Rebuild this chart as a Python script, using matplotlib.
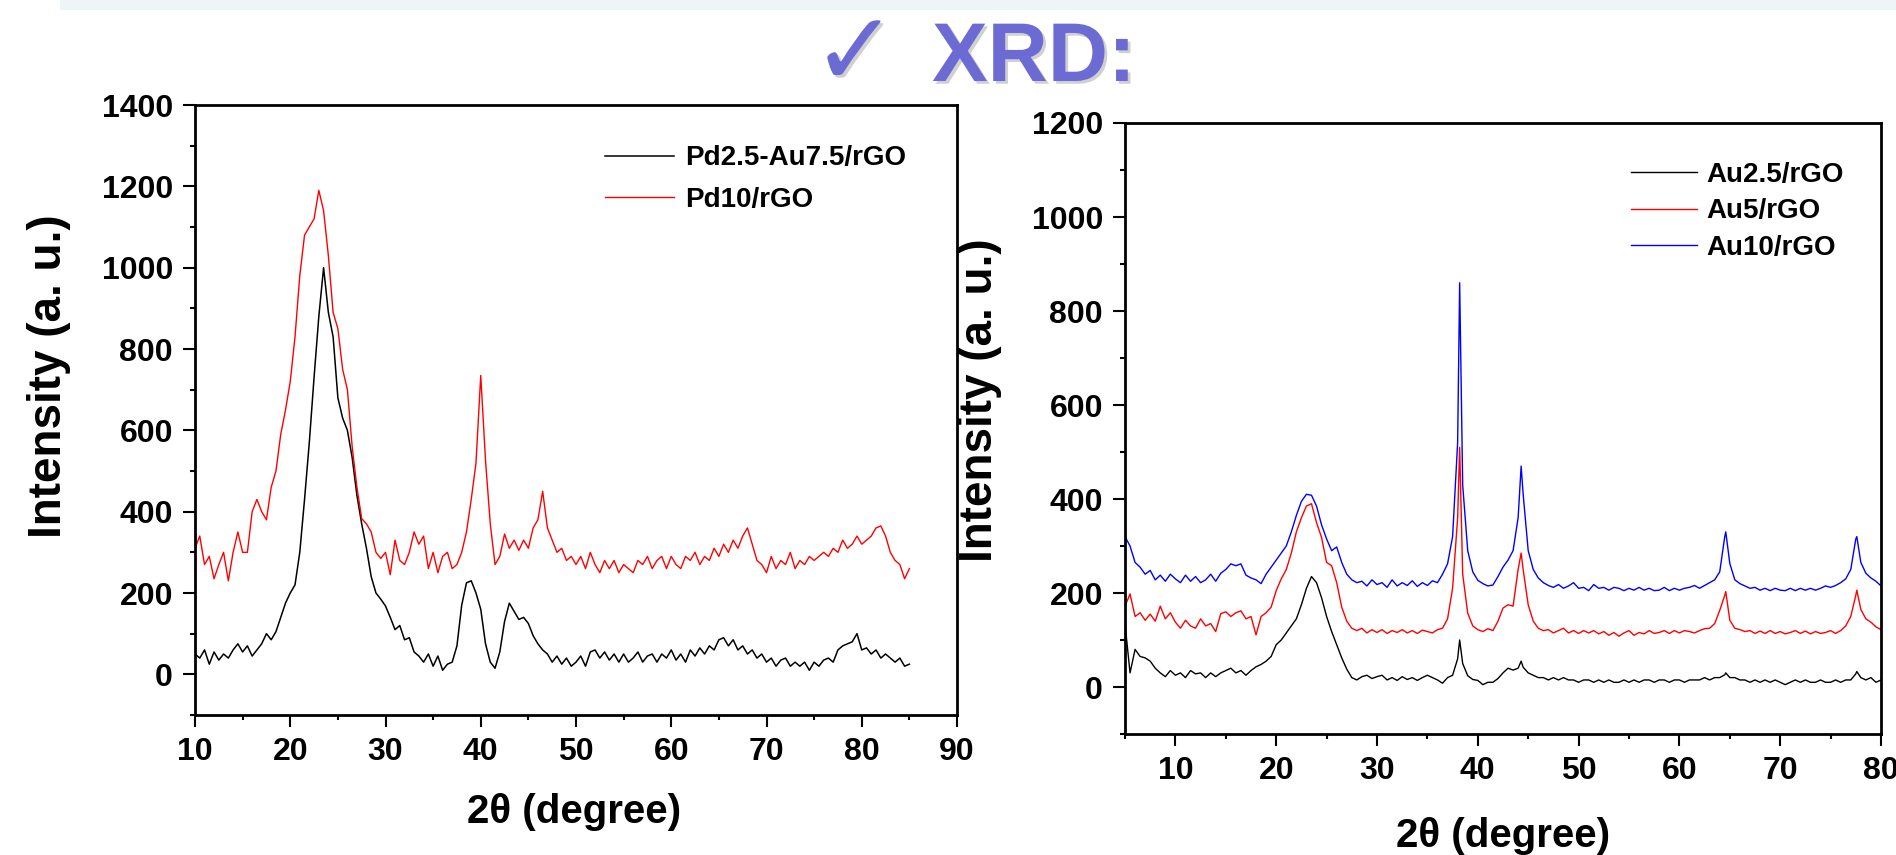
import matplotlib as mpl
mpl.use('Agg')
import matplotlib.pyplot as plt
import matplotlib.patheffects as pe
from matplotlib.patches import Rectangle
from matplotlib.ticker import MultipleLocator
import numpy as np

plt.rcParams['font.family'] = ['Liberation Sans', 'DejaVu Sans']
plt.rcParams['font.weight'] = 'bold'

# ---- left panel: Pd / Pd-Au on rGO, 2theta 10..85 step 0.5
left_x = np.arange(10, 85.01, 0.5)
pdau_y = [50, 40, 60, 25, 55, 35, 50, 40, 60, 75,
          55, 70, 45, 60, 75, 100, 85, 105, 140, 175,
          200, 220, 300, 430, 570, 730, 880, 1000, 890, 830,
          680, 630, 600, 533, 440, 370, 310, 240, 200, 185,
          168, 140, 110, 120, 85, 90, 55, 45, 30, 50,
          20, 45, 10, 25, 30, 70, 170, 225, 230, 200,
          160, 75, 30, 15, 55, 130, 175, 155, 135, 140,
          125, 95, 75, 60, 50, 30, 45, 25, 40, 20,
          30, 45, 20, 55, 60, 40, 55, 35, 50, 30,
          50, 30, 40, 55, 30, 45, 50, 30, 50, 40,
          60, 35, 50, 30, 60, 45, 65, 50, 70, 60,
          85, 90, 70, 85, 60, 70, 50, 60, 40, 50,
          30, 40, 20, 35, 40, 20, 30, 20, 30, 10,
          30, 20, 35, 40, 30, 60, 70, 75, 80, 100,
          60, 65, 50, 60, 40, 50, 40, 30, 40, 20,
          25]
pd_y = [310, 340, 270, 290, 235, 270, 300, 230, 300, 350,
        300, 300, 400, 430, 400, 380, 460, 500, 590, 650,
        720, 830, 980, 1080, 1100, 1120, 1190, 1140, 1030, 890,
        850, 750, 700, 560, 460, 383, 370, 350, 300, 285,
        300, 245, 330, 280, 270, 300, 350, 320, 340, 260,
        300, 250, 290, 300, 260, 270, 300, 350, 430, 520,
        735, 526, 370, 270, 290, 345, 310, 330, 305, 330,
        310, 360, 380, 450, 360, 330, 300, 310, 280, 290,
        270, 290, 260, 300, 270, 250, 280, 260, 280, 250,
        270, 260, 250, 280, 270, 290, 260, 280, 290, 260,
        290, 270, 260, 290, 280, 300, 270, 290, 280, 310,
        290, 320, 300, 330, 310, 340, 360, 320, 280, 270,
        250, 290, 260, 280, 270, 300, 260, 280, 270, 290,
        280, 290, 300, 290, 310, 300, 330, 310, 320, 340,
        320, 330, 340, 360, 365, 340, 300, 280, 270, 235,
        260]
left_labels = ['Pd2.5-Au7.5/rGO', 'Pd10/rGO']

# ---- right panel: Au on rGO, 2theta 5..80 step 0.5, plus peak apex readings
right_x = np.arange(5, 80.01, 0.5)
au25_y = [135, 30, 80, 65, 62, 55, 40, 30, 22, 35,
          25, 30, 20, 35, 28, 30, 20, 30, 22, 30,
          35, 40, 30, 35, 25, 35, 43, 48, 55, 65,
          90, 100, 115, 130, 145, 175, 210, 235, 222, 190,
          150, 118, 90, 62, 38, 20, 15, 22, 25, 18,
          22, 25, 15, 20, 14, 22, 16, 20, 14, 20,
          25, 20, 15, 8, 20, 25, 60, 50, 24, 16,
          14, 5, 10, 10, 18, 30, 40, 36, 40, 42,
          30, 25, 20, 20, 15, 20, 15, 20, 15, 15,
          10, 15, 15, 10, 15, 10, 15, 10, 10, 15,
          10, 15, 10, 15, 15, 10, 15, 15, 10, 15,
          15, 10, 15, 15, 15, 20, 15, 20, 20, 26,
          20, 20, 15, 15, 10, 15, 10, 15, 10, 15,
          10, 5, 10, 15, 10, 15, 10, 10, 15, 10,
          10, 15, 10, 15, 15, 28, 20, 15, 20, 10,
          15]
au5_y = [172, 198, 150, 158, 142, 155, 140, 172, 145, 158,
         138, 125, 142, 130, 125, 145, 130, 135, 118, 156,
         160, 150, 158, 162, 145, 150, 111, 150, 158, 170,
         205, 230, 250, 285, 330, 360, 385, 390, 350, 318,
         265, 258, 222, 170, 140, 125, 120, 125, 115, 122,
         116, 122, 114, 120, 116, 122, 115, 120, 114, 121,
         118, 115, 122, 125, 145, 210, 360, 240, 157, 130,
         122, 118, 124, 120, 140, 168, 175, 172, 250, 250,
         175, 140, 125, 120, 122, 115, 120, 125, 115, 120,
         114, 120, 115, 120, 113, 118, 110, 116, 108, 115,
         120, 110, 116, 113, 120, 114, 116, 120, 114, 120,
         115, 120, 118, 115, 120, 124, 125, 135, 163, 195,
         142, 125, 122, 118, 120, 114, 119, 114, 120, 114,
         118, 113, 116, 120, 114, 119, 113, 118, 114, 116,
         120, 114, 120, 130, 150, 195, 165, 145, 138, 128,
         122]
au10_y = [320, 300, 265, 255, 240, 248, 228, 238, 225, 240,
          230, 222, 238, 225, 235, 222, 228, 240, 225, 242,
          250, 262, 258, 262, 238, 232, 228, 220, 240, 255,
          270, 285, 300, 330, 365, 395, 410, 408, 385, 345,
          315, 290, 298, 265, 240, 228, 222, 225, 215, 228,
          218, 222, 212, 228, 215, 222, 216, 226, 214, 222,
          216, 226, 222, 240, 262, 320, 520, 430, 290, 245,
          227, 220, 215, 217, 235, 255, 270, 290, 360, 410,
          290, 250, 232, 222, 216, 212, 218, 210, 215, 222,
          210, 212, 205, 218, 210, 212, 206, 212, 210, 205,
          210, 206, 212, 206, 210, 205, 206, 212, 205, 210,
          206, 210, 212, 216, 210, 216, 222, 228, 245, 320,
          263, 228, 220, 215, 210, 212, 206, 210, 205, 210,
          206, 205, 210, 205, 210, 206, 210, 206, 210, 215,
          212, 216, 222, 230, 250, 315, 265, 242, 232, 225,
          215]
peak_x = [38.2, 44.3, 64.6, 77.6]
au25_peaks = [100, 55, 30, 33]
au5_peaks = [510, 285, 203, 206]
au10_peaks = [860, 470, 330, 320]
right_labels = ['Au2.5/rGO', 'Au5/rGO', 'Au10/rGO']


def with_peaks(x, y, px, py):
  xx = np.concatenate([x, px])
  yy = np.concatenate([np.asarray(y, float), py])
  order = np.argsort(xx)
  return xx[order], yy[order]


def style_axes(ax, xmaj, ymaj):
  for s in ax.spines.values():
    s.set_linewidth(2)
  ax.xaxis.set_major_locator(MultipleLocator(xmaj))
  ax.xaxis.set_minor_locator(MultipleLocator(xmaj / 2))
  ax.yaxis.set_major_locator(MultipleLocator(ymaj))
  ax.yaxis.set_minor_locator(MultipleLocator(ymaj / 2))
  ax.tick_params(which='both', direction='out', top=False, right=False, width=1.5)
  ax.tick_params(which='major', length=8.6, pad=7.2, labelsize=23)
  ax.tick_params(which='minor', length=3.6)
  for lab in ax.get_xticklabels() + ax.get_yticklabels():
    lab.set_fontweight('bold')


fig = plt.figure(figsize=(18.96, 8.55), dpi=100)
W, H = 1896., 855.

# header band
fig.patches.append(Rectangle((60 / W, 1 - 10 / H), 1, 10 / H, transform=fig.transFigure,
                             facecolor='#eef5f6', edgecolor='none', zorder=0))

shadow = [pe.withSimplePatchShadow(offset=(2, -2), shadow_rgbFace='#666666', alpha=0.3)]
fig.text(855 / W, 1 - 85 / H, '\u2713', fontsize=74, color='#6b6bd3', ha='center', va='baseline',
         family=['DejaVu Sans'], fontweight='normal', path_effects=shadow)
fig.text(1034 / W, 1 - 59 / H, 'XRD:', fontsize=60, color='#6b6bd3', ha='center', va='center',
         fontweight='bold', path_effects=shadow)

# ---- left plot
ax1 = fig.add_axes([195 / W, 1 - 715 / H, 762 / W, 610 / H])
ax1.plot(left_x, pdau_y, color='black', lw=1.1, label=left_labels[0])
ax1.plot(left_x, pd_y, color='red', lw=1.0, label=left_labels[1])
ax1.set_xlim(10, 90)
ax1.set_ylim(-100, 1400)
style_axes(ax1, 10, 200)
ax1.legend(loc='upper left', bbox_to_anchor=(0.538, 0.934), frameon=False, borderpad=0,
           borderaxespad=0, handlelength=2.48, handletextpad=0.4, labelspacing=0.56,
           prop={'size': 20, 'weight': 'bold'})

fig.text(49 / W, 1 - 376 / H, 'Intensity (a. u.)', rotation=90, ha='center', va='center',
         fontsize=33, fontweight='bold')
fig.text(574 / W, 1 - 812 / H, '2\u03b8 (degree)', ha='center', va='center',
         fontsize=29, fontweight='bold')

# ---- right plot
ax2 = fig.add_axes([1125 / W, 1 - 734 / H, 756 / W, 611 / H])
for yv, pk, col, lab in [(au25_y, au25_peaks, 'black', right_labels[0]),
                         (au5_y, au5_peaks, 'red', right_labels[1]),
                         (au10_y, au10_peaks, 'blue', right_labels[2])]:
  xx, yy = with_peaks(right_x, yv, peak_x, pk)
  ax2.plot(xx, yy, color=col, lw=1.0, label=lab)
ax2.set_xlim(5, 80)
ax2.set_ylim(-100, 1200)
style_axes(ax2, 10, 200)
ax2.legend(loc='upper left', bbox_to_anchor=(0.669, 0.936), frameon=False, borderpad=0,
           borderaxespad=0, handlelength=2.4, handletextpad=0.32, labelspacing=0.37,
           prop={'size': 20, 'weight': 'bold'})

fig.text(980 / W, 1 - 400 / H, 'Intensity (a. u.)', rotation=90, ha='center', va='center',
         fontsize=33, fontweight='bold')
fig.text(1503 / W, 1 - 836 / H, '2\u03b8 (degree)', ha='center', va='center',
         fontsize=29, fontweight='bold')

fig.savefig('out.png', dpi=100)
